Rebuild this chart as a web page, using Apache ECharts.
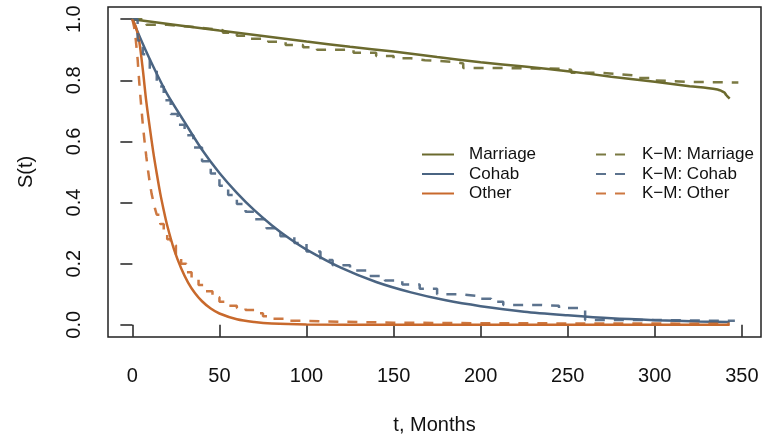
<!DOCTYPE html>
<html>
<head>
<meta charset="utf-8">
<script src="https://cdn.jsdelivr.net/npm/echarts@6/dist/echarts.min.js"></script>
<style>
  html, body { margin: 0; padding: 0; background: #ffffff; }
  #chart { width: 762px; height: 441px; }
</style>
</head>
<body>
<div id="chart"></div>
<script>
// Survival curves by union type: parametric fits (solid) and Kaplan–Meier estimates (dashed)

const xTicks = [0, 50, 100, 150, 200, 250, 300, 350];
const yTicks = [0, 0.2, 0.4, 0.6, 0.8, 1.0];

// Fitted survival, Marriage
const marriageFitT = [0, 50, 100, 125, 150, 175, 200, 225, 250, 275, 300, 320, 330, 336, 338, 340, 341, 342, 343];
const marriageFitS = [1.000, 0.963, 0.927, 0.910, 0.894, 0.876, 0.859, 0.845, 0.830, 0.812, 0.795, 0.781, 0.775, 0.770, 0.766, 0.760, 0.752, 0.746, 0.740];

// Fitted survival, Cohab
const cohabFitT = [0, 5, 10, 15, 20, 30, 40, 50, 60, 70, 80, 90, 100, 120, 140, 160, 180, 200, 225, 250, 275, 300, 325, 343];
const cohabFitS = [1.0, 0.932, 0.869, 0.810, 0.755, 0.663, 0.573, 0.497, 0.432, 0.375, 0.326, 0.283, 0.246, 0.186, 0.140, 0.106, 0.080, 0.061, 0.043, 0.031, 0.021, 0.015, 0.011, 0.009];

// Fitted survival, Other
const otherFitT = [0, 2, 4, 6, 8, 10, 12, 14, 16, 18, 20, 24, 28, 32, 36, 40, 45, 50, 60, 70, 80, 100, 150, 343];
const otherFitS = [1.0, 0.975, 0.925, 0.835, 0.73, 0.645, 0.565, 0.495, 0.43, 0.375, 0.325, 0.245, 0.185, 0.138, 0.103, 0.077, 0.053, 0.037, 0.018, 0.009, 0.004, 0.001, 0, 0];

// Kaplan–Meier, Marriage
const marriageKmT = [0, 8, 20, 32, 43, 52, 60, 68, 78, 88, 98, 106, 127, 140, 150, 160, 168, 185, 190, 215, 246, 252, 267, 278, 290, 298, 300, 320, 348];
const marriageKmS = [1.0, 0.982, 0.976, 0.970, 0.964, 0.956, 0.946, 0.936, 0.926, 0.916, 0.908, 0.900, 0.890, 0.880, 0.872, 0.866, 0.860, 0.855, 0.840, 0.838, 0.835, 0.825, 0.821, 0.815, 0.808, 0.800, 0.795, 0.793, 0.793];

// Kaplan–Meier, Cohab
const cohabKmT = [0, 3, 6, 10, 14, 18, 22, 26, 30, 35, 40, 45, 50, 55, 60, 65, 70, 77, 85, 93, 100, 108, 115, 125, 135, 145, 155, 165, 175, 188, 197, 206, 213, 235, 245, 258, 260, 300, 320, 346];
const cohabKmS = [1.0, 0.93, 0.885, 0.835, 0.78, 0.735, 0.69, 0.655, 0.62, 0.58, 0.535, 0.495, 0.455, 0.425, 0.395, 0.37, 0.345, 0.316, 0.29, 0.268, 0.24, 0.212, 0.195, 0.178, 0.16, 0.145, 0.132, 0.118, 0.10, 0.095, 0.085, 0.075, 0.065, 0.062, 0.055, 0.052, 0.016, 0.014, 0.013, 0.012];

// Kaplan–Meier, Other
const otherKmT = [0, 1, 2, 3, 4, 5, 6, 7, 8, 9, 10, 11, 12, 13, 14, 16, 18, 20, 22, 25, 28, 31, 34, 38, 42, 46, 50, 55, 60, 65, 70, 75, 80, 90, 100, 120, 150, 200, 300, 343];
const otherKmS = [1.0, 0.975, 0.93, 0.87, 0.79, 0.72, 0.655, 0.60, 0.55, 0.505, 0.465, 0.43, 0.405, 0.38, 0.36, 0.33, 0.30, 0.28, 0.26, 0.23, 0.20, 0.172, 0.15, 0.13, 0.11, 0.09, 0.075, 0.062, 0.055, 0.048, 0.038, 0.028, 0.02, 0.013, 0.01, 0.007, 0.005, 0.004, 0.003, 0.003];

const COLORS = { marriage: '#6b6a2e', cohab: '#4a6482', other: '#c8692c' };
const FONT = '"Liberation Sans", Arial, Helvetica, sans-serif';
const DASH = [10, 9];

const pairs = (ts, ss) => ts.map((t, i) => [t, ss[i]]);

function fitSeries(name, ts, ss, color) {
  return {
    name, type: 'line', data: pairs(ts, ss),
    symbol: 'none', showSymbol: false, smooth: 0.3,
    lineStyle: { color, width: 2.5 }, itemStyle: { color },
    z: 2
  };
}
function kmSeries(name, ts, ss, color) {
  return {
    name, type: 'line', data: pairs(ts, ss),
    symbol: 'none', showSymbol: false, step: 'end',
    lineStyle: { color, width: 2.5, type: DASH, opacity: 0.9 }, itemStyle: { color },
    z: 3
  };
}

const legendText = { fontSize: 17, fontFamily: FONT, color: '#111', padding: [0, 0, 0, 10] };
const legendBase = {
  orient: 'vertical', top: 141,
  itemHeight: 14, itemGap: 2.5,
  itemStyle: { opacity: 0 },
  textStyle: legendText, selectedMode: false
};

const chart = echarts.init(document.getElementById('chart'), null, { renderer: 'canvas' });
chart.setOption({
  animation: false,
  backgroundColor: '#ffffff',
  grid: {
    left: 108, top: 7, right: 1, bottom: 104,
    show: true, borderColor: '#222', borderWidth: 1.5, backgroundColor: 'transparent'
  },
  legend: [
    Object.assign({}, legendBase, {
      data: ['Marriage', 'Cohab', 'Other'], left: 416, itemWidth: 32
    }),
    Object.assign({}, legendBase, {
      data: ['K\u2212M: Marriage', 'K\u2212M: Cohab', 'K\u2212M: Other'], left: 590, itemWidth: 31
    })
  ],
  xAxis: {
    type: 'value', min: -14, max: 361,
    name: 't, Months', nameLocation: 'middle', nameGap: 78,
    nameTextStyle: { fontSize: 20, fontFamily: FONT, color: '#111' },
    axisLine: { show: false },
    axisTick: { show: true, customValues: xTicks, length: 12, lineStyle: { color: '#222', width: 1.5 } },
    axisLabel: { customValues: xTicks, margin: 29, fontSize: 20, fontFamily: FONT, color: '#111' },
    splitLine: { show: false }
  },
  yAxis: {
    type: 'value', min: -0.04, max: 1.04,
    name: 'S(t)', nameLocation: 'middle', nameGap: 72, nameRotate: 90,
    nameTextStyle: { fontSize: 20, fontFamily: FONT, color: '#111' },
    axisLine: { show: false },
    axisTick: { show: true, customValues: yTicks, length: 12, lineStyle: { color: '#222', width: 1.5 } },
    axisLabel: {
      customValues: yTicks, rotate: 90, margin: 24, fontSize: 20, fontFamily: FONT, color: '#111',
      formatter: v => v.toFixed(1)
    },
    splitLine: { show: false }
  },
  series: [
    fitSeries('Marriage', marriageFitT, marriageFitS, COLORS.marriage),
    fitSeries('Cohab', cohabFitT, cohabFitS, COLORS.cohab),
    fitSeries('Other', otherFitT, otherFitS, COLORS.other),
    kmSeries('K\u2212M: Marriage', marriageKmT, marriageKmS, COLORS.marriage),
    kmSeries('K\u2212M: Cohab', cohabKmT, cohabKmS, COLORS.cohab),
    kmSeries('K\u2212M: Other', otherKmT, otherKmS, COLORS.other)
  ]
});
</script>
</body>
</html>
